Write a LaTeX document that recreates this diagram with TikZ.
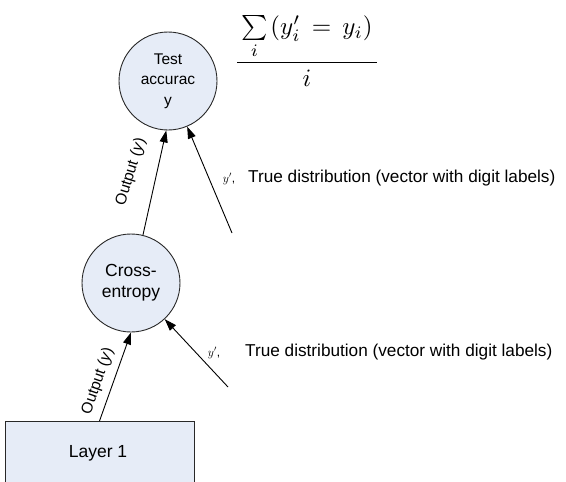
\documentclass[tikz,border=0pt]{standalone}
\usepackage{fontspec}
\usepackage{graphicx}
\setmainfont{Liberation Sans}
\usetikzlibrary{arrows.meta}
\definecolor{nodefill}{RGB}{230,236,247}
\definecolor{edge}{RGB}{40,40,40}
\tikzset{
  unit/.style={circle, draw=edge, fill=nodefill, line width=0.9pt, minimum size=98pt,
    inner sep=0pt, align=center},
  layerbox/.style={rectangle, draw=edge, fill=nodefill, line width=0.9pt,
    minimum width=189pt, minimum height=90pt, inner sep=0pt},
  flow/.style={draw=black, line width=0.9pt, -{Triangle[length=12pt,width=8pt]}},
  edgelabel/.style={font=\fontsize{15.5}{17}\selectfont, inner sep=0pt},
  note/.style={font=\fontsize{17.2}{19}\selectfont, anchor=west, inner sep=0pt},
  tinysym/.style={font=\fontsize{12}{12}\selectfont, inner sep=0pt}
}
\begin{document}
\begin{tikzpicture}[x=1pt,y=-1pt]
  \clip (0,0) rectangle (566,482);
  \fill[white] (0,0) rectangle (566,482);

  % network units
  \node[unit, font=\fontsize{15.5}{20.5}\selectfont] (acc) at (168,81) {Test\\accurac\\y};
  \node[unit, font=\fontsize{17.5}{21}\selectfont] (xent) at (131,283) {Cross-\\entropy};
  \node[layerbox, anchor=north] (layer) at (99.5,421) {};
  \node[font=\fontsize{17.5}{19}\selectfont] (layertext) at (98,453) {Layer 1};

  % free ends of the label inputs
  \coordinate (lab1) at (232,233);
  \coordinate (lab2) at (228,387);

  % forward connections
  \draw[flow] (layer.north) -- (xent.south);
  \draw[flow] (xent.76) -- (acc.268);
  \draw[flow] (lab2) -- (xent);
  \draw[flow] (lab1) -- (acc);

  % connection labels
  \node[edgelabel, rotate=71] (out1) at (98,381) {Output (\textit{y})};
  \node[edgelabel, rotate=73] (out2) at (131,172) {Output (\textit{y})};

  % true distribution inputs
  \node[tinysym] (sym1) at (229,179) {$y'$,};
  \node[note] (note1) at (248,178) {True distribution (vector with digit labels)};
  \node[tinysym] (sym2) at (214,353) {$y'$,};
  \node[note] (note2) at (245,352) {True distribution (vector with digit labels)};

  % accuracy formula
  \node[inner sep=0pt] (formula) at (307,51)
    {\scalebox{2.5}{$\displaystyle\frac{\mkern3mu\sum\limits_{i}\mkern2mu(y'_{i}\mkern8mu{=}\mkern8mu y_{i})\mkern3mu}{i}$}};
\end{tikzpicture}
\end{document}
